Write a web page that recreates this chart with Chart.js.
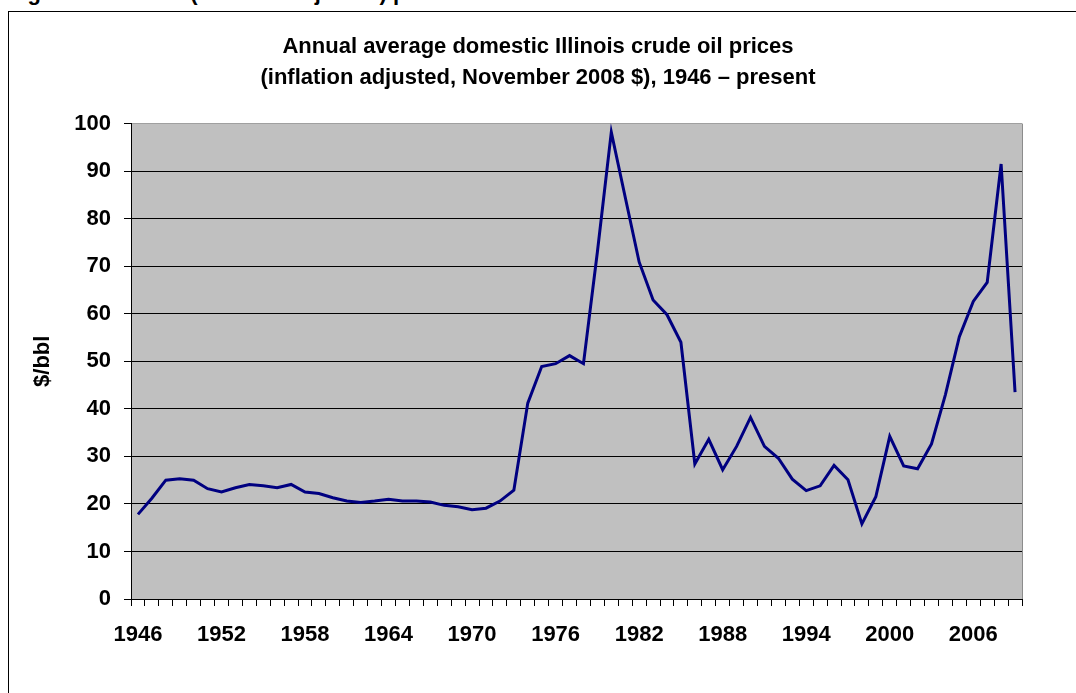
<!DOCTYPE html>
<html>
<head>
<meta charset="utf-8">
<script src="https://cdn.jsdelivr.net/npm/chart.js@4.4.1/dist/chart.umd.min.js"></script>
<style>
  html, body { margin: 0; padding: 0; background: #fff; overflow: hidden; }
  #page { position: relative; width: 1076px; height: 693px; overflow: hidden; }
  #cut { position: absolute; left: 8px; top: -18px; font: bold 22px/22px "Liberation Sans", Arial, sans-serif; white-space: nowrap; color: #000; }
  #frame { position: absolute; left: 8px; top: 11px; width: 2000px; height: 2000px; border: 1px solid #000; box-sizing: border-box; }
  #priceChart { position: absolute; left: 0; top: 0; }
</style>
</head>
<body>
<div id="page">
  <div id="cut">Figure 6. Real oil (inflation adjusted) prices</div>
  <div id="frame"></div>
  <canvas id="priceChart" width="1076" height="693"></canvas>
</div>
<script>
// years on the category axis
const years = [
  '1946','1947','1948','1949','1950','1951','1952','1953','1954','1955',
  '1956','1957','1958','1959','1960','1961','1962','1963','1964','1965',
  '1966','1967','1968','1969','1970','1971','1972','1973','1974','1975',
  '1976','1977','1978','1979','1980','1981','1982','1983','1984','1985',
  '1986','1987','1988','1989','1990','1991','1992','1993','1994','1995',
  '1996','1997','1998','1999','2000','2001','2002','2003','2004','2005',
  '2006','2007','2008','2009'
];

// $/bbl, November 2008 dollars
const prices = [
  17.8, 21.2, 25.0, 25.3, 25.0, 23.2, 22.5, 23.4, 24.1, 23.8,
  23.4, 24.1, 22.5, 22.2, 21.3, 20.6, 20.3, 20.6, 21.0, 20.6,
  20.6, 20.4, 19.7, 19.4, 18.8, 19.1, 20.6, 22.9, 41.2, 48.9,
  49.5, 51.2, 49.5, 73.0, 98.2, 84.5, 70.9, 62.9, 59.8, 54.0,
  28.4, 33.6, 27.2, 32.1, 38.2, 32.1, 29.6, 25.2, 22.8, 23.8,
  28.1, 25.1, 15.8, 21.5, 34.2, 28.0, 27.4, 32.6, 43.0, 55.2,
  62.6, 66.6, 91.5, 43.5
];

// only these years get a label under the axis
const shownYears = ['1946','1952','1958','1964','1970','1976','1982','1988','1994','2000','2006'];

const titleLines = [
  'Annual average domestic Illinois crude oil prices',
  '(inflation adjusted, November 2008 $), 1946 \u2013 present'
];

const FONT = '"Liberation Sans", Arial, sans-serif';

// grey plot background + grey right edge like the Excel plot area
const plotArea = {
  id: 'plotArea',
  beforeDraw(chart) {
    const { ctx, chartArea: a } = chart;
    ctx.save();
    ctx.fillStyle = '#C0C0C0';
    ctx.fillRect(a.left, a.top, a.right - a.left, a.bottom - a.top);
    ctx.restore();
  },
  afterDraw(chart) {
    const { ctx, chartArea: a } = chart;
    ctx.save();
    ctx.strokeStyle = '#8c8c8c';
    ctx.lineWidth = 1;
    ctx.beginPath();
    ctx.moveTo(a.right + 0.5, a.top);
    ctx.lineTo(a.right + 0.5, a.bottom);
    ctx.stroke();
    ctx.restore();
  }
};

const ctx = document.getElementById('priceChart').getContext('2d');
const priceChart = new Chart(ctx, {
  type: 'line',
  data: {
    labels: years,
    datasets: [{
      label: '$/bbl',
      data: prices,
      borderColor: '#000080',
      borderWidth: 3,
      pointRadius: 0,
      tension: 0,
      fill: false
    }]
  },
  options: {
    responsive: false,
    animation: false,
    layout: { padding: { left: 0, right: 0, top: 0, bottom: 34 } },
    scales: {
      x: {
        type: 'category',
        offset: true,
        afterFit: (scale) => { scale.height = 60; },
        grid: {
          offset: true,
          drawOnChartArea: false,
          drawTicks: true,
          tickLength: 7,
          color: '#000'
        },
        border: { display: true, color: '#000', width: 1 },
        ticks: {
          autoSkip: false,
          maxRotation: 0,
          padding: 16,
          color: '#000',
          font: { family: FONT, size: 22, weight: 'bold' },
          callback: function (val) {
            const lab = this.getLabelForValue(val);
            return shownYears.includes(lab) ? lab : '';
          }
        }
      },
      y: {
        min: 0,
        max: 100,
        afterFit: (scale) => { scale.width = 131; },
        grid: {
          drawTicks: true,
          tickLength: 7,
          tickColor: '#000',
          color: (c) => (c.tick && c.tick.value === 100 ? '#a0a0a0' : '#000')
        },
        border: { display: true, color: '#000', width: 1 },
        ticks: {
          stepSize: 10,
          padding: 13,
          color: '#000',
          font: { family: FONT, size: 22, weight: 'bold' }
        },
        title: {
          display: true,
          text: '$/bbl',
          color: '#000',
          padding: { top: 30, bottom: 0 },
          font: { family: FONT, size: 22, weight: 'bold' }
        }
      },
      // empty right-hand axis, only reserves the white margin so the title stays centred on the page
      yRight: {
        position: 'right',
        min: 0,
        max: 100,
        afterFit: (scale) => { scale.width = 54; },
        grid: { drawOnChartArea: false, drawTicks: false },
        border: { display: false },
        ticks: { display: false }
      }
    },
    plugins: {
      legend: { display: false },
      tooltip: { enabled: false },
      title: {
        display: true,
        text: titleLines,
        color: '#000',
        padding: { top: 32, bottom: 30 },
        font: { family: FONT, size: 22, weight: 'bold', lineHeight: 1.4 }
      }
    }
  },
  plugins: [plotArea]
});
</script>
</body>
</html>
